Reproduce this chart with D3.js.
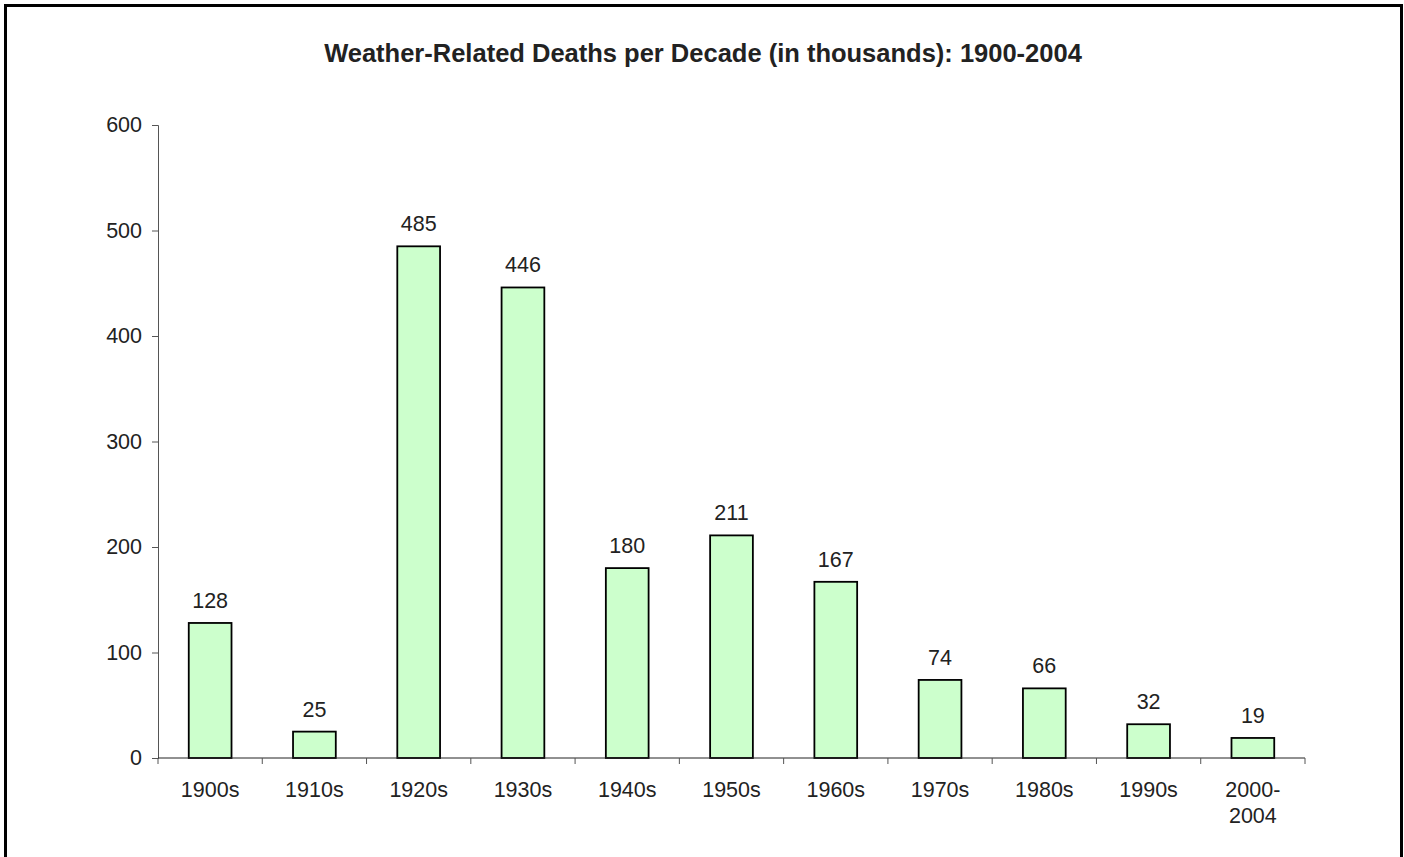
<!DOCTYPE html>
<html>
<head>
<meta charset="utf-8">
<script src="https://cdn.jsdelivr.net/npm/d3@7"></script>
<style>
  body { margin: 0; background: #fff; }
  svg { display: block; font-family: "Liberation Sans", Arial, sans-serif; }
</style>
</head>
<body>
<svg id="chart" width="1404" height="857"></svg>
<script>
const decades = ['1900s', '1910s', '1920s', '1930s', '1940s', '1950s', '1960s', '1970s', '1980s', '1990s', '2000-\n2004'];
const deaths = [128, 25, 485, 446, 180, 211, 167, 74, 66, 32, 19];
const yTicks = [0, 100, 200, 300, 400, 500, 600];
const title = 'Weather-Related Deaths per Decade (in thousands): 1900-2004';

const svg = d3.select('#chart');

// outer frame (bottom edge runs off the page)
svg.append('rect')
  .attr('x', 5.5).attr('y', 5.5)
  .attr('width', 1396).attr('height', 900)
  .attr('fill', 'none')
  .attr('stroke', '#000')
  .attr('stroke-width', 3);

svg.append('text')
  .attr('x', 703).attr('y', 62)
  .attr('text-anchor', 'middle')
  .style('font-size', '25.5px')
  .style('font-weight', 'bold')
  .attr('fill', '#222')
  .text(title);

const plotL = 158, plotR = 1305, plotT = 125, plotB = 758;

const x = d3.scaleBand()
  .domain(decades)
  .range([plotL, plotR])
  .paddingInner(0.59)
  .paddingOuter(0.295);

const y = d3.scaleLinear()
  .domain([0, 600])
  .range([plotB, plotT]);

// y axis
const yAxis = svg.append('g')
  .attr('transform', `translate(${plotL},0)`)
  .call(d3.axisLeft(y).tickValues(yTicks).tickSize(6).tickPadding(10));
yAxis.select('.domain').attr('stroke', '#555');
yAxis.selectAll('.tick line').attr('stroke', '#555');
yAxis.selectAll('.tick text')
  .style('font-size', '21.5px')
  .style('font-family', '"Liberation Sans", Arial, sans-serif')
  .attr('fill', '#222');

// bars
svg.append('g').selectAll('rect')
  .data(deaths)
  .enter().append('rect')
  .attr('x', (d, i) => x(decades[i]))
  .attr('y', d => y(d))
  .attr('width', x.bandwidth())
  .attr('height', d => y(0) - y(d))
  .attr('fill', '#ccffcc')
  .attr('stroke', '#000')
  .attr('stroke-width', 1.8);

// value labels
svg.append('g').selectAll('text')
  .data(deaths)
  .enter().append('text')
  .attr('x', (d, i) => x(decades[i]) + x.bandwidth() / 2)
  .attr('y', d => y(d) - 15)
  .attr('text-anchor', 'middle')
  .style('font-size', '21.5px')
  .attr('fill', '#222')
  .text(d => d);

// x axis: ticks sit at band boundaries
const boundaries = decades.map((d, i) => plotL + i * x.step()).concat([plotR]);
const xAxis = svg.append('g');
xAxis.append('line')
  .attr('x1', plotL).attr('x2', plotR)
  .attr('y1', plotB).attr('y2', plotB)
  .attr('stroke', '#222');
xAxis.selectAll('line.tick')
  .data(boundaries)
  .enter().append('line')
  .classed('tick', true)
  .attr('x1', d => d).attr('x2', d => d)
  .attr('y1', plotB).attr('y2', plotB + 6)
  .attr('stroke', '#555');

const xLabels = xAxis.selectAll('text')
  .data(decades)
  .enter().append('text')
  .attr('text-anchor', 'middle')
  .style('font-size', '21.5px')
  .attr('fill', '#222');
xLabels.each(function (d) {
  const cx = x(d) + x.bandwidth() / 2;
  d.split('\n').forEach((part, k) => {
    d3.select(this).append('tspan')
      .attr('x', cx)
      .attr('y', plotB + 39 + k * 26)
      .text(part);
  });
});
</script>
</body>
</html>
